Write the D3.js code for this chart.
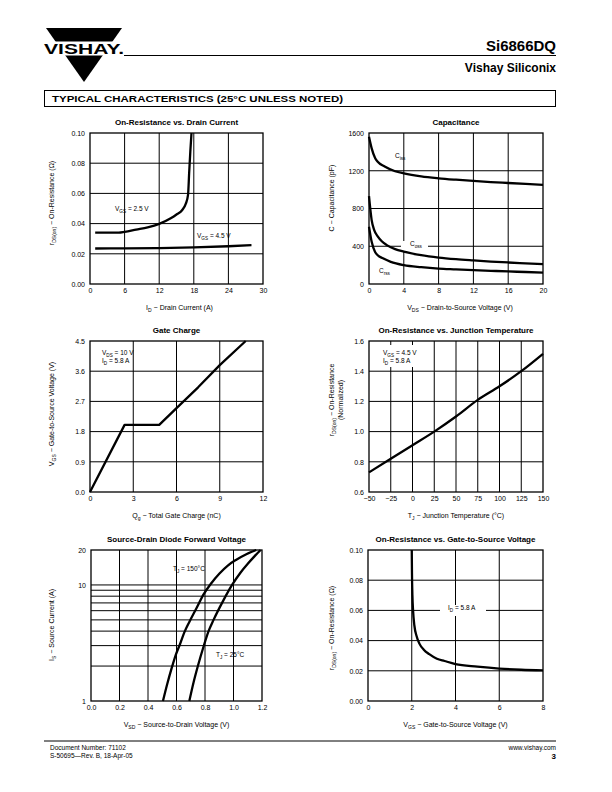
<!DOCTYPE html>
<html><head><meta charset="utf-8">
<script src="https://cdn.jsdelivr.net/npm/d3@7"></script>
<style>
body{margin:0;background:#fff}
svg{display:block}
text{font-family:"Liberation Sans",Arial,Helvetica,sans-serif;fill:#000}
</style>
</head><body>
<svg id="c" width="612" height="792"></svg>
<script>
// ---------------- DATA ----------------
// Chart 1: On-Resistance vs. Drain Current
const c1XTicks = [0, 6, 12, 18, 24, 30];
const c1YTicks = [0, 0.02, 0.04, 0.06, 0.08, 0.10];
const c1Vgs25 = [[0.9,0.034],[5,0.034],[6,0.0345],[8,0.036],[10,0.0375],[12,0.0398],[14,0.0435],[15,0.046],[16,0.049],[16.6,0.053],[17.0,0.059],[17.2,0.074],[17.4,0.088],[17.6,0.100]];
const c1Vgs45 = [[0.9,0.0235],[6,0.0236],[12,0.0238],[18,0.0242],[24,0.025],[28,0.0257]];

// Chart 2: Capacitance
const c2XTicks = [0, 4, 8, 12, 16, 20];
const c2YTicks = [0, 400, 800, 1200, 1600];
const c2Ciss = [[0,1560],[0.3,1440],[0.7,1335],[1,1295],[1.8,1245],[3,1195],[4,1172],[6,1140],[8,1120],[10,1105],[12,1092],[14,1080],[16,1070],[18,1060],[20,1050]];
const c2Coss = [[0,930],[0.3,680],[0.6,570],[1,505],[1.5,450],[2,415],[3,370],[4,343],[6,305],[8,280],[10,263],[12,250],[14,238],[16,228],[18,219],[20,210]];
const c2Crss = [[0,607],[0.3,450],[0.7,340],[1,305],[1.6,272],[2.5,235],[4,200],[6,178],[8,163],[10,155],[12,147],[14,140],[16,133],[18,127],[20,120]];

// Chart 3: Gate Charge
const c3XTicks = [0, 3, 6, 9, 12];
const c3YTicks = [0, 0.9, 1.8, 2.7, 3.6, 4.5];
const c3Vgs = [[0,0],[2.4,2.0],[4.8,2.0],[6,2.5],[7.5,3.12],[9,3.78],[10.8,4.5]];

// Chart 4: On-Resistance vs. Junction Temperature
const c4XTicks = [-50, -25, 0, 25, 50, 75, 100, 125, 150];
const c4YTicks = [0.6, 0.8, 1.0, 1.2, 1.4, 1.6];
const c4Rds = [[-50,0.73],[-25,0.82],[0,0.91],[25,1.0],[50,1.1],[75,1.21],[100,1.3],[125,1.4],[150,1.515]];

// Chart 5: Source-Drain Diode Forward Voltage
const c5XTicks = [0, 0.2, 0.4, 0.6, 0.8, 1.0, 1.2];
const c5YLabels = [1, 10, 20];
const c5YGrid = [2, 3, 4, 5, 6, 7, 8, 9, 10];
const c5T150 = [[0.505,1],[0.535,1.4],[0.565,1.9],[0.595,2.5],[0.625,3.1],[0.655,3.9],[0.69,4.8],[0.74,6.3],[0.79,8.3],[0.84,10.2],[0.90,12.5],[0.96,14.7],[1.02,16.5],[1.09,18.4],[1.16,20]];
const c5T25 = [[0.69,1],[0.72,1.45],[0.75,2],[0.79,2.95],[0.825,4],[0.86,5],[0.93,7.4],[0.99,10],[1.05,12.8],[1.10,15.2],[1.15,17.8],[1.19,20]];

// Chart 6: On-Resistance vs. Gate-to-Source Voltage
const c6XTicks = [0, 2, 4, 6, 8];
const c6YTicks = [0, 0.02, 0.04, 0.06, 0.08, 0.10];
const c6Rds = [[2.0,0.1],[2.01,0.085],[2.03,0.07],[2.06,0.06],[2.12,0.05],[2.22,0.043],[2.35,0.038],[2.55,0.034],[2.8,0.031],[3.15,0.028],[3.5,0.0265],[4,0.0245],[5,0.0228],[6,0.0215],[7,0.0207],[8,0.0203]];

// ---------------- DRAWING ----------------
const svg = d3.select('#c');
const FS = 7;

function segText(parent, segs, x, y, opts = {}) {
  const t = parent.append('text').attr('x', x).attr('y', y)
    .attr('font-size', opts.size || FS)
    .attr('text-anchor', opts.anchor || 'start');
  if (opts.weight) t.attr('font-weight', opts.weight);
  if (opts.rotate) t.attr('transform', `rotate(-90,${x},${y})`);
  let shifted = 0;
  segs.forEach(s => {
    const ts = t.append('tspan').text(s.t);
    if (s.s) { ts.attr('font-size', (opts.size || FS) * 0.72).attr('dy', 2 - shifted); shifted = 2; }
    else if (shifted) { ts.attr('dy', -shifted); shifted = 0; }
  });
  return t;
}

function chart(o) {
  const g = svg.append('g');
  const x = d3.scaleLinear().domain(o.xDomain).range([o.x0, o.x1]);
  const y = (o.yLog ? d3.scaleLog() : d3.scaleLinear()).domain(o.yDomain).range([o.y1, o.y0]);
  // grid
  const xg = o.xGrid.filter(v => v > o.xDomain[0] && v < o.xDomain[1]);
  const yg = o.yGrid.filter(v => v > o.yDomain[0] && v < o.yDomain[1]);
  g.selectAll('.gx').data(xg).join('line')
    .attr('x1', d => x(d)).attr('x2', d => x(d)).attr('y1', o.y0).attr('y2', o.y1)
    .attr('stroke', '#000').attr('stroke-width', 1);
  g.selectAll('.gy').data(yg).join('line')
    .attr('y1', d => y(d)).attr('y2', d => y(d)).attr('x1', o.x0).attr('x2', o.x1)
    .attr('stroke', '#000').attr('stroke-width', 1);
  // label backgrounds
  (o.bgs || []).forEach(b => g.append('rect').attr('x', b[0]).attr('y', b[1]).attr('width', b[2]).attr('height', b[3]).attr('fill', '#fff'));
  // frame
  g.append('rect').attr('x', o.x0).attr('y', o.y0).attr('width', o.x1 - o.x0).attr('height', o.y1 - o.y0)
    .attr('fill', 'none').attr('stroke', '#000').attr('stroke-width', 1.3);
  // axes labels
  const ax = g.append('g').attr('transform', `translate(0,${o.y1})`)
    .call(d3.axisBottom(x).tickValues(o.xTicks).tickSize(0).tickPadding(4).tickFormat(o.xFmt));
  const ay = g.append('g').attr('transform', `translate(${o.x0},0)`)
    .call(d3.axisLeft(y).tickValues(o.yTicks).tickSize(0).tickPadding(5).tickFormat(o.yFmt));
  [ax, ay].forEach(a => {
    a.select('.domain').remove();
    a.selectAll('text').attr('font-size', FS).attr('font-family', '"Liberation Sans",Arial,sans-serif').attr('fill', '#000');
  });
  // curves
  const line = d3.line().x(d => x(d[0])).y(d => y(d[1])).curve(o.curve || d3.curveMonotoneX);
  o.series.forEach(s => g.append('path').datum(s).attr('d', line)
    .attr('fill', 'none').attr('stroke', '#000').attr('stroke-width', 2.3).attr('stroke-linejoin', 'round'));
  // title
  g.append('text').attr('x', (o.x0 + o.x1) / 2).attr('y', o.y0 - 8).attr('text-anchor', 'middle')
    .attr('font-size', 8).attr('font-weight', 'bold').text(o.title);
  segText(g, o.xTitle, (o.x0 + o.x1) / 2 + (o.xTitleDx || 0), o.y1 + 26, { anchor: 'middle' });
  o.yTitle.forEach((yt, i) => segText(g, yt, o.yTitleX + i * 9, o.yTitleY || (o.y0 + o.y1) / 2, { anchor: 'middle', rotate: true }));
  (o.notes || []).forEach(n => segText(g, n[0], n[1], n[2], { size: 6.5 }));
}

const f2 = d3.format('.2f'), f1 = d3.format('.1f'), f0 = d3.format('d');
const RDS = [{t:'r'},{t:'DS(on)',s:1},{t:'  \u2212  On-Resistance (\u03a9)'}];

chart({x0:90,x1:263,y0:133,y1:284,xDomain:[0,30],yDomain:[0,0.10],
  xTicks:c1XTicks,yTicks:c1YTicks,xGrid:c1XTicks,yGrid:c1YTicks,xFmt:f0,yFmt:f2,
  series:[c1Vgs25,c1Vgs45],title:'On-Resistance vs. Drain Current',
  xTitle:[{t:'I'},{t:'D',s:1},{t:'  \u2212  Drain Current (A)'}],xTitleDx:3,
  yTitle:[RDS],yTitleX:54,yTitleY:203,
  notes:[[[{t:'V'},{t:'GS',s:1},{t:' = 2.5 V'}],115,211],[[{t:'V'},{t:'GS',s:1},{t:' = 4.5 V'}],197,238]]});

chart({x0:369,x1:543,y0:133,y1:284,xDomain:[0,20],yDomain:[0,1600],
  xTicks:c2XTicks,yTicks:c2YTicks,xGrid:c2XTicks,yGrid:c2YTicks,xFmt:f0,yFmt:f0,
  series:[c2Ciss,c2Coss,c2Crss],title:'Capacitance',
  xTitle:[{t:'V'},{t:'DS',s:1},{t:'  \u2212  Drain-to-Source Voltage (V)'}],xTitleDx:4,
  yTitle:[[{t:'C  \u2212  Capacitance (pF)'}]],yTitleX:334,yTitleY:198,
  bgs:[[401,241,27,10]],
  notes:[[[{t:'C'},{t:'iss',s:1}],395,158],[[{t:'C'},{t:'oss',s:1}],410,246],[[{t:'C'},{t:'rss',s:1}],379,273]]});

chart({x0:90,x1:263,y0:341,y1:492,xDomain:[0,12],yDomain:[0,4.5],
  xTicks:c3XTicks,yTicks:c3YTicks,xGrid:c3XTicks,yGrid:c3YTicks,xFmt:f0,yFmt:f1,
  series:[c3Vgs],curve:d3.curveLinear,title:'Gate Charge',
  xTitle:[{t:'Q'},{t:'g',s:1},{t:'  \u2212  Total Gate Charge (nC)'}],
  yTitle:[[{t:'V'},{t:'GS',s:1},{t:'  \u2212  Gate-to-Source Voltage (V)'}]],yTitleX:54,yTitleY:414,
  notes:[[[{t:'V'},{t:'DS',s:1},{t:' = 10 V'}],102,355],[[{t:'I'},{t:'D',s:1},{t:' = 5.8 A'}],102,363]]});

chart({x0:369,x1:543,y0:341,y1:492,xDomain:[-50,150],yDomain:[0.6,1.6],
  xTicks:c4XTicks,yTicks:c4YTicks,xGrid:c4XTicks,yGrid:c4YTicks,xFmt:f0,yFmt:f1,
  series:[c4Rds],title:'On-Resistance vs. Junction Temperature',
  xTitle:[{t:'T'},{t:'J',s:1},{t:' \u2212 Junction Temperature (\u00b0C)'}],
  yTitle:[[{t:'r'},{t:'DS(on)',s:1},{t:' \u2212 On-Resistance'}],[{t:'(Normalized)'}]],yTitleX:334,yTitleY:400,
  bgs:[[381,345,44,22]],
  notes:[[[{t:'V'},{t:'GS',s:1},{t:' = 4.5 V'}],383,355],[[{t:'I'},{t:'D',s:1},{t:' = 5.8 A'}],383,363]]});

chart({x0:91,x1:262,y0:550,y1:701,xDomain:[0,1.2],yDomain:[1,20],yLog:true,
  xTicks:c5XTicks,yTicks:c5YLabels,xGrid:c5XTicks,yGrid:c5YGrid,xFmt:f1,yFmt:f0,
  series:[c5T150,c5T25],title:'Source-Drain Diode Forward Voltage',
  xTitle:[{t:'V'},{t:'SD',s:1},{t:'  \u2212  Source-to-Drain Voltage (V)'}],
  yTitle:[[{t:'I'},{t:'S',s:1},{t:'  \u2212  Source Current (A)'}]],yTitleX:54,yTitleY:625,
  notes:[[[{t:'T'},{t:'J',s:1},{t:' = 150\u00b0C'}],173,571],[[{t:'T'},{t:'J',s:1},{t:' = 25\u00b0C'}],216,657]]});

chart({x0:368,x1:543,y0:550,y1:701,xDomain:[0,8],yDomain:[0,0.10],
  xTicks:c6XTicks,yTicks:c6YTicks,xGrid:c6XTicks,yGrid:c6YTicks,xFmt:f0,yFmt:f2,
  series:[c6Rds],title:'On-Resistance vs. Gate-to-Source Voltage',
  xTitle:[{t:'V'},{t:'GS',s:1},{t:' \u2212 Gate-to-Source Voltage (V)'}],
  yTitle:[RDS],yTitleX:334,yTitleY:628,
  bgs:[[440,605,46,11]],
  notes:[[[{t:'I'},{t:'D',s:1},{t:' =  5.8 A'}],448,610]]});

// ---------------- PAGE FURNITURE ----------------
svg.append('path').attr('d', 'M46,28 L122,28 L84,82 Z').attr('fill', '#000');
svg.append('rect').attr('x', 40).attr('y', 41.5).attr('width', 90).attr('height', 14).attr('fill', '#fff');
svg.append('text').attr('x', 44).attr('y', 54).attr('font-size', 14).attr('font-weight', 'bold')
  .attr('textLength', 80).attr('lengthAdjust', 'spacingAndGlyphs').text('VISHAY.');
svg.append('line').attr('x1', 124).attr('x2', 556).attr('y1', 55.5).attr('y2', 55.5).attr('stroke', '#000').attr('stroke-width', 1.2);
svg.append('text').attr('x', 556).attr('y', 51).attr('text-anchor', 'end').attr('font-size', 15).attr('font-weight', 'bold').text('Si6866DQ');
svg.append('text').attr('x', 556).attr('y', 72).attr('text-anchor', 'end').attr('font-size', 12).attr('font-weight', 'bold').text('Vishay Siliconix');
svg.append('rect').attr('x', 44.5).attr('y', 90.5).attr('width', 511).attr('height', 16).attr('fill', 'none').attr('stroke', '#000').attr('stroke-width', 1);
svg.append('text').attr('x', 52).attr('y', 102).attr('font-size', 9).attr('font-weight', 900)
  .attr('textLength', 291).attr('lengthAdjust', 'spacingAndGlyphs').text('TYPICAL CHARACTERISTICS (25\u00b0C UNLESS NOTED)');
svg.append('line').attr('x1', 44).attr('x2', 556).attr('y1', 741).attr('y2', 741).attr('stroke', '#000').attr('stroke-width', 1);
svg.append('text').attr('x', 50).attr('y', 750).attr('font-size', 6.5).text('Document Number: 71102');
svg.append('text').attr('x', 50).attr('y', 758).attr('font-size', 6.5).text('S-50695\u2014Rev. B, 18-Apr-05');
svg.append('text').attr('x', 556).attr('y', 750).attr('text-anchor', 'end').attr('font-size', 6.5).text('www.vishay.com');
svg.append('text').attr('x', 556).attr('y', 759).attr('text-anchor', 'end').attr('font-size', 8).attr('font-weight', 'bold').text('3');
</script>
</body></html>
